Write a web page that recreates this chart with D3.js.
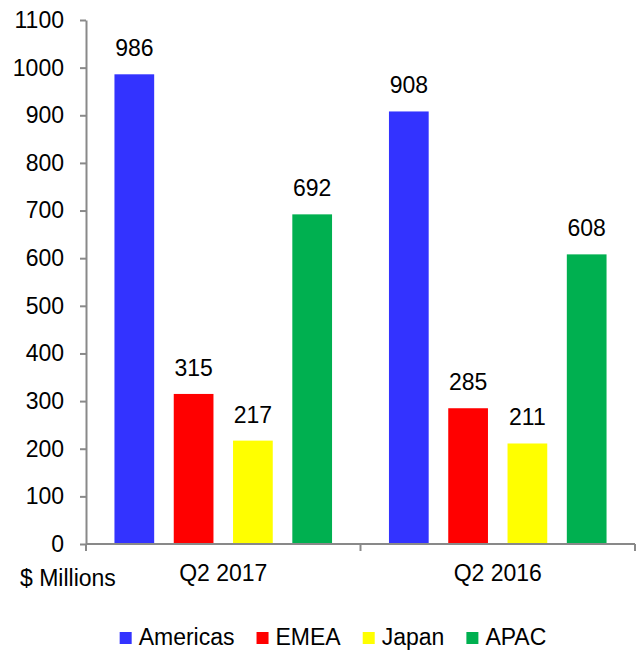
<!DOCTYPE html>
<html>
<head>
<meta charset="utf-8">
<script src="https://cdn.jsdelivr.net/npm/d3@7"></script>
<style>
  html, body { margin: 0; padding: 0; background: #fff; }
  svg { display: block; font-family: "Liberation Sans", Arial, sans-serif; }
</style>
</head>
<body>
<svg id="chart" width="637" height="650"></svg>
<script>
const groups = ["Q2 2017", "Q2 2016"];
const regions = ["Americas", "EMEA", "Japan", "APAC"];
const q2_2017 = [986, 315, 217, 692];
const q2_2016 = [908, 285, 211, 608];
const yTicks = [0, 100, 200, 300, 400, 500, 600, 700, 800, 900, 1000, 1100];
const colors = ["#3333FF", "#FF0000", "#FFFF00", "#00B050"];
const unitLabel = "$ Millions";

(function () {
const seriesByGroup = [q2_2017, q2_2016];
const data = groups.map((g, i) => ({
  group: g,
  values: regions.map((r, j) => ({ region: r, value: seriesByGroup[i][j] }))
}));

const FS = 23;
const svg = d3.select("#chart");
const axisColor = "#898989";
const mLeft = 86, mRight = 635, mTop = 20, mBottom = 544;

const y = d3.scaleLinear().domain([0, 1100]).range([mBottom, mTop]);
const x0 = d3.scaleBand().domain(groups).range([mLeft, mRight]).padding(0);
const x1 = d3.scaleBand().domain(regions).range([0, x0.bandwidth()])
  .paddingInner(0.33).paddingOuter(0.48);
const color = d3.scaleOrdinal().domain(regions).range(colors);

// Bars
const g = svg.append("g");
const grp = g.selectAll("g.grp").data(data).enter().append("g")
  .attr("class", "grp")
  .attr("transform", d => `translate(${x0(d.group)},0)`);
grp.selectAll("rect").data(d => d.values).enter().append("rect")
  .attr("x", d => x1(d.region))
  .attr("y", d => y(d.value))
  .attr("width", x1.bandwidth())
  .attr("height", d => y(0) - y(d.value))
  .attr("fill", d => color(d.region));
grp.selectAll("text.val").data(d => d.values).enter().append("text")
  .attr("class", "val")
  .attr("x", d => x1(d.region) + x1.bandwidth() / 2)
  .attr("y", d => y(d.value) - 18)
  .attr("text-anchor", "middle")
  .attr("font-size", FS)
  .attr("fill", "#000")
  .text(d => d.value);

// Y axis
const yAxis = d3.axisLeft(y).tickValues(yTicks).tickFormat(d3.format("d"))
  .tickSize(6).tickPadding(16).tickSizeOuter(0);
const yg = svg.append("g").attr("transform", `translate(${mLeft},0)`).call(yAxis);
yg.select(".domain").attr("stroke", axisColor).attr("stroke-width", 2);
yg.selectAll(".tick line").attr("stroke", axisColor).attr("stroke-width", 2);
yg.selectAll(".tick text").attr("font-size", FS).attr("fill", "#000")
  .attr("font-family", "Liberation Sans, Arial, sans-serif");

// X axis (line with boundary ticks)
const xg = svg.append("g").attr("transform", `translate(0,${mBottom})`);
xg.append("line").attr("x1", mLeft).attr("x2", mRight).attr("y1", 0).attr("y2", 0)
  .attr("stroke", axisColor).attr("stroke-width", 2);
const boundaries = groups.map(gr => x0(gr)).concat([x0(groups[groups.length - 1]) + x0.bandwidth()]);
xg.selectAll("line.bt").data(boundaries).enter().append("line")
  .attr("class", "bt")
  .attr("x1", d => d).attr("x2", d => d).attr("y1", 0).attr("y2", 7)
  .attr("stroke", axisColor).attr("stroke-width", 2);
xg.selectAll("text.cat").data(groups).enter().append("text")
  .attr("class", "cat")
  .attr("x", d => x0(d) + x0.bandwidth() / 2)
  .attr("y", 37)
  .attr("text-anchor", "middle")
  .attr("font-size", FS)
  .attr("fill", "#000")
  .text(d => d);

svg.append("text").attr("x", 20).attr("y", 586)
  .attr("font-size", FS).attr("fill", "#000").text(unitLabel);

// Legend
const legend = svg.append("g");
const items = legend.selectAll("g.li").data(regions).enter().append("g").attr("class", "li");
items.append("rect").attr("width", 12).attr("height", 12).attr("y", 632)
  .attr("fill", d => color(d));
items.append("text").attr("x", 19).attr("y", 645).attr("font-size", FS)
  .attr("fill", "#000").text(d => d);
const widths = [];
items.each(function () { widths.push(19 + d3.select(this).select("text").node().getComputedTextLength()); });
const gap = 22;
const total = d3.sum(widths) + gap * (widths.length - 1);
let cx = 333 - total / 2;
items.each(function (d, i) {
  d3.select(this).attr("transform", `translate(${cx},0)`);
  cx += widths[i] + gap;
});
})();
</script>
</body>
</html>
